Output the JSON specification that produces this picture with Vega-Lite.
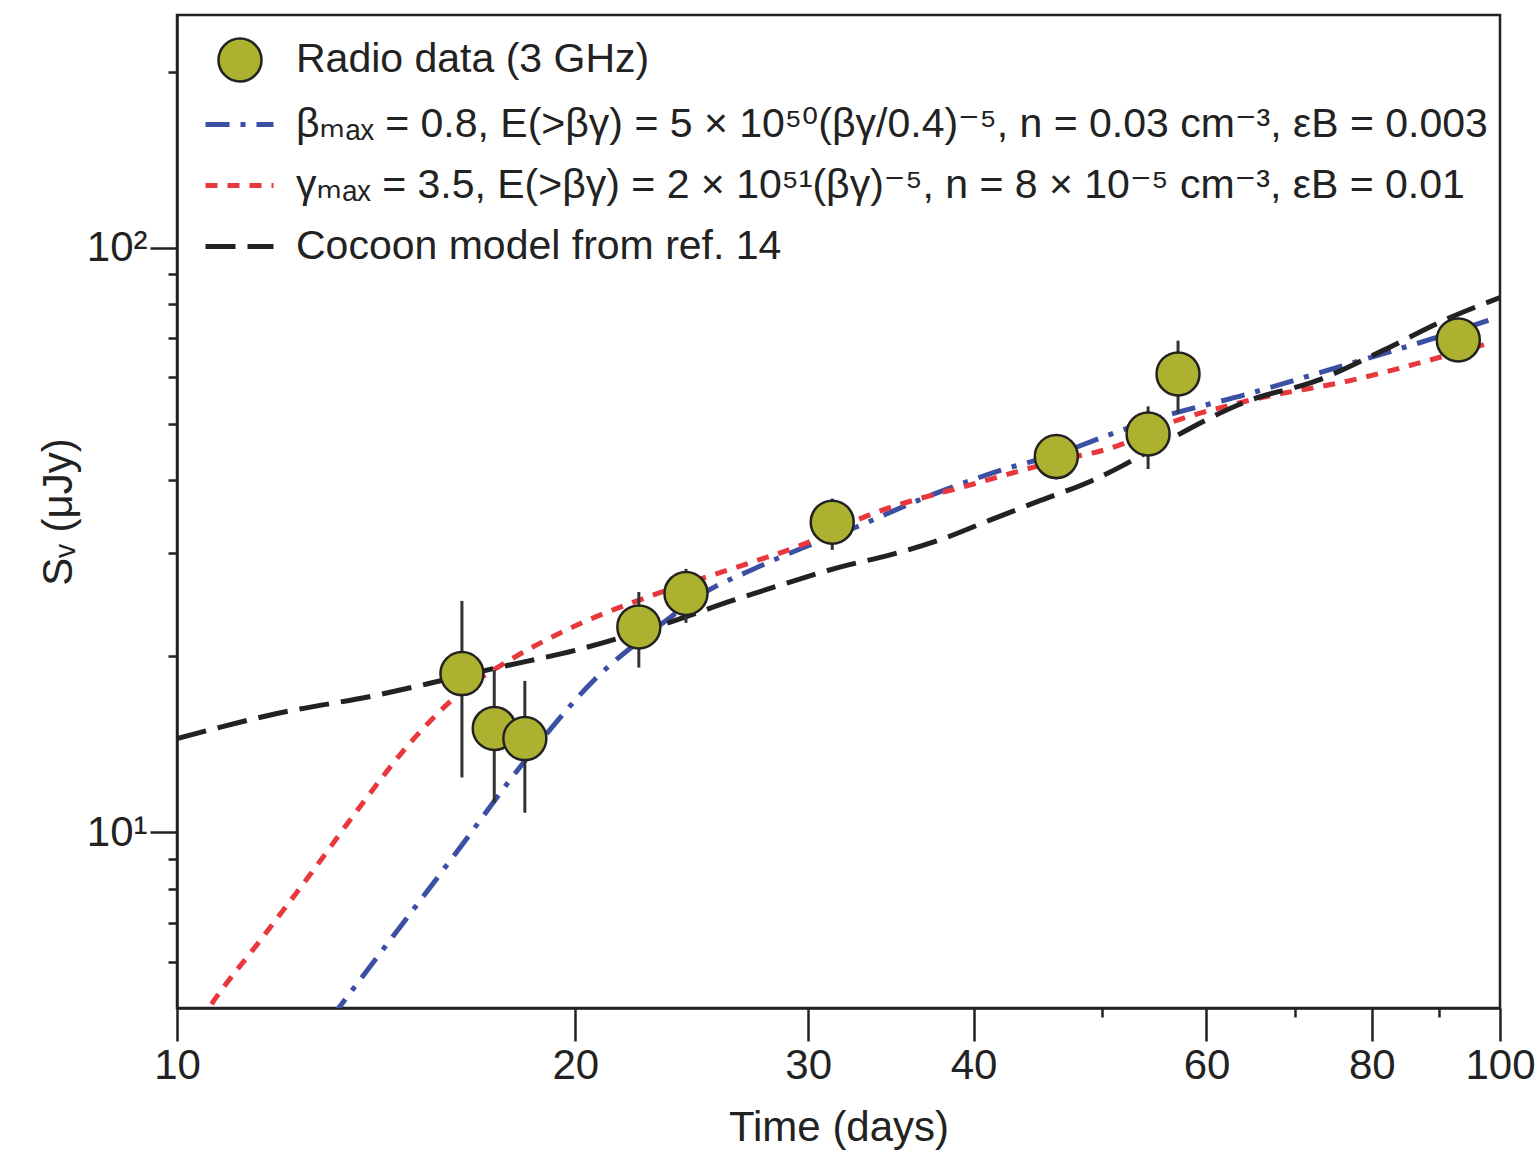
{
  "$schema": "https://vega.github.io/schema/vega-lite/v6.json",
  "width": 1323,
  "height": 993,
  "autosize": {"type": "none"},
  "padding": {"left": 177, "top": 15, "right": 38, "bottom": 144},
  "background": "white",
  "config": {
    "font": "Liberation Sans, Arial, DejaVu Sans, sans-serif",
    "view": {"stroke": "#222", "strokeWidth": 2.5},
    "axis": {
      "grid": false,
      "domainColor": "#222",
      "domainWidth": 2.5,
      "tickColor": "#222",
      "tickWidth": 2.5,
      "labelColor": "#222",
      "titleColor": "#222",
      "labelFontSize": 42,
      "titleFontSize": 42,
      "titleFontWeight": "normal",
      "labelFlush": false,
      "labelOverlap": false
    },
    "legend": {"labelColor": "#222", "labelFontSize": 41, "labelLimit": 0}
  },
  "datasets": {
    "models": [
      {"model": "beta", "t": 13.07, "S": 4.8},
      {"model": "beta", "t": 13.45, "S": 5.23},
      {"model": "beta", "t": 16.57, "S": 9.77},
      {"model": "beta", "t": 17.85, "S": 12.27},
      {"model": "beta", "t": 18.94, "S": 14.54},
      {"model": "beta", "t": 20.66, "S": 18.19},
      {"model": "beta", "t": 22.54, "S": 21.54},
      {"model": "beta", "t": 23.88, "S": 23.77},
      {"model": "beta", "t": 24.85, "S": 25.4},
      {"model": "beta", "t": 27.1, "S": 28.0},
      {"model": "beta", "t": 29.57, "S": 30.5},
      {"model": "beta", "t": 32.66, "S": 33.3},
      {"model": "beta", "t": 36.6, "S": 37.2},
      {"model": "beta", "t": 42.4, "S": 41.9},
      {"model": "beta", "t": 46.1, "S": 44.2},
      {"model": "beta", "t": 50.5, "S": 47.7},
      {"model": "beta", "t": 54.4, "S": 50.6},
      {"model": "beta", "t": 64.7, "S": 56.3},
      {"model": "beta", "t": 77.0, "S": 63.3},
      {"model": "beta", "t": 86.5, "S": 68.5},
      {"model": "beta", "t": 99.5, "S": 75.9},
      {"model": "gamma", "t": 10.4, "S": 4.72},
      {"model": "gamma", "t": 10.59, "S": 5.03},
      {"model": "gamma", "t": 11.55, "S": 6.51},
      {"model": "gamma", "t": 12.6, "S": 8.44},
      {"model": "gamma", "t": 13.75, "S": 11.05},
      {"model": "gamma", "t": 15.0, "S": 14.2},
      {"model": "gamma", "t": 16.37, "S": 17.3},
      {"model": "gamma", "t": 17.85, "S": 19.7},
      {"model": "gamma", "t": 20.06, "S": 22.6},
      {"model": "gamma", "t": 23.2, "S": 25.7},
      {"model": "gamma", "t": 26.5, "S": 28.4},
      {"model": "gamma", "t": 29.57, "S": 30.9},
      {"model": "gamma", "t": 33.6, "S": 35.1},
      {"model": "gamma", "t": 40.0, "S": 39.4},
      {"model": "gamma", "t": 46.1, "S": 43.1},
      {"model": "gamma", "t": 51.9, "S": 46.2},
      {"model": "gamma", "t": 54.4, "S": 48.6},
      {"model": "gamma", "t": 64.7, "S": 54.8},
      {"model": "gamma", "t": 77.0, "S": 59.2},
      {"model": "gamma", "t": 86.5, "S": 63.3},
      {"model": "gamma", "t": 97.8, "S": 68.5},
      {"model": "cocoon", "t": 10.0, "S": 14.45},
      {"model": "cocoon", "t": 11.9, "S": 15.95},
      {"model": "cocoon", "t": 14.16, "S": 17.15},
      {"model": "cocoon", "t": 15.91, "S": 18.2},
      {"model": "cocoon", "t": 17.45, "S": 19.1},
      {"model": "cocoon", "t": 20.06, "S": 20.5},
      {"model": "cocoon", "t": 23.5, "S": 22.8},
      {"model": "cocoon", "t": 26.3, "S": 24.9},
      {"model": "cocoon", "t": 28.8, "S": 26.6},
      {"model": "cocoon", "t": 31.7, "S": 28.4},
      {"model": "cocoon", "t": 34.6, "S": 29.8},
      {"model": "cocoon", "t": 37.7, "S": 31.6},
      {"model": "cocoon", "t": 41.2, "S": 34.2},
      {"model": "cocoon", "t": 44.9, "S": 36.9},
      {"model": "cocoon", "t": 49.0, "S": 39.8},
      {"model": "cocoon", "t": 51.9, "S": 42.4},
      {"model": "cocoon", "t": 54.4, "S": 45.0},
      {"model": "cocoon", "t": 64.7, "S": 54.8},
      {"model": "cocoon", "t": 72.7, "S": 59.2},
      {"model": "cocoon", "t": 81.6, "S": 66.7},
      {"model": "cocoon", "t": 91.7, "S": 75.9},
      {"model": "cocoon", "t": 100.0, "S": 82.1}
    ],
    "radio": [
      {"series": "Radio data (3 GHz)", "t": 16.42, "S": 18.67, "lo": 12.4, "hi": 24.86},
      {"series": "Radio data (3 GHz)", "t": 17.37, "S": 15.04, "lo": 11.22, "hi": 18.92},
      {"series": "Radio data (3 GHz)", "t": 18.32, "S": 14.45, "lo": 10.79, "hi": 18.14},
      {"series": "Radio data (3 GHz)", "t": 22.34, "S": 22.44, "lo": 19.12, "hi": 25.75},
      {"series": "Radio data (3 GHz)", "t": 24.25, "S": 25.6, "lo": 22.8, "hi": 28.2},
      {"series": "Radio data (3 GHz)", "t": 31.28, "S": 33.9, "lo": 30.4, "hi": 37.2},
      {"series": "Radio data (3 GHz)", "t": 46.2, "S": 43.9, "lo": 40.1, "hi": 47.7},
      {"series": "Radio data (3 GHz)", "t": 54.2, "S": 48.0, "lo": 41.8, "hi": 53.5},
      {"series": "Radio data (3 GHz)", "t": 57.1, "S": 60.8, "lo": 52.1, "hi": 69.3},
      {"series": "Radio data (3 GHz)", "t": 93.0, "S": 69.5, "lo": 66.5, "hi": 72.5}
    ]
  },
  "layer": [
    {
      "data": {"name": "models"},
      "mark": {"type": "line", "strokeWidth": 5, "clip": true, "interpolate": "monotone", "strokeCap": "butt"},
      "encoding": {
        "x": {
          "field": "t", "type": "quantitative",
          "scale": {"type": "log", "domain": [10, 100], "nice": false},
          "axis": {"orient": "bottom", "values": [10, 20, 30, 40, 60, 80, 100], "format": "d", "tickSize": 33, "labelPadding": 4, "title": "Time (days)", "titlePadding": 21}
        },
        "y": {
          "field": "S", "type": "quantitative",
          "scale": {"type": "log", "domain": [5, 250], "nice": false},
          "axis": {"orient": "left", "values": [10, 100], "labelExpr": "datum.value == 100 ? '10²' : '10¹'", "tickSize": 27, "labelPadding": 3, "title": "Sᵥ (μJy)", "titlePadding": 6}
        },
        "color": {
          "field": "model", "type": "nominal",
          "scale": {"domain": ["beta", "gamma", "cocoon"], "range": ["#3b4fa3", "#e8383e", "#222222"]},
          "legend": {"orient": "none", "legendX": 26, "legendY": 73, "title": null, "padding": 0, "symbolType": "stroke", "symbolSize": 4624, "symbolStrokeWidth": 5, "labelOffset": 20, "rowPadding": 4, "labelExpr": "datum.label == 'beta' ? 'βₘₐₓ = 0.8, E(>βγ) = 5 × 10⁵⁰(βγ/0.4)⁻⁵, n = 0.03 cm⁻³, εB = 0.003' : datum.label == 'gamma' ? 'γₘₐₓ = 3.5, E(>βγ) = 2 × 10⁵¹(βγ)⁻⁵, n = 8 × 10⁻⁵ cm⁻³, εB = 0.01' : 'Cocoon model from ref. 14'"}
        },
        "strokeDash": {
          "field": "model", "type": "nominal",
          "scale": {"domain": ["beta", "gamma", "cocoon"], "range": [[24, 11, 5, 11], [12, 10], [30, 12]]},
          "legend": {"orient": "none", "legendX": 26, "legendY": 73, "title": null, "padding": 0, "symbolType": "stroke", "symbolSize": 4624, "symbolStrokeWidth": 5, "labelOffset": 20, "rowPadding": 4, "labelExpr": "datum.label == 'beta' ? 'βₘₐₓ = 0.8, E(>βγ) = 5 × 10⁵⁰(βγ/0.4)⁻⁵, n = 0.03 cm⁻³, εB = 0.003' : datum.label == 'gamma' ? 'γₘₐₓ = 3.5, E(>βγ) = 2 × 10⁵¹(βγ)⁻⁵, n = 8 × 10⁻⁵ cm⁻³, εB = 0.01' : 'Cocoon model from ref. 14'"}
        }
      }
    },
    {
      "data": {"name": "radio"},
      "mark": {"type": "rule", "color": "#333333", "strokeWidth": 3},
      "encoding": {
        "x": {
          "field": "t", "type": "quantitative",
          "axis": {"orient": "bottom", "values": [50, 70, 90], "tickSize": 9, "labels": false, "domain": false, "title": null}
        },
        "y": {
          "field": "lo", "type": "quantitative",
          "axis": {"orient": "left", "values": [6, 7, 8, 9, 20, 30, 40, 50, 60, 70, 80, 90, 200], "tickSize": 9, "labels": false, "domain": false, "title": null}
        },
        "y2": {"field": "hi"}
      }
    },
    {
      "data": {"name": "radio"},
      "mark": {"type": "point", "shape": "circle", "filled": true, "strokeWidth": 2.5, "size": 1849, "opacity": 1},
      "encoding": {
        "x": {"field": "t", "type": "quantitative", "axis": null},
        "y": {"field": "S", "type": "quantitative", "axis": null},
        "fill": {
          "field": "series", "type": "nominal",
          "scale": {"range": ["#adb130"]},
          "legend": {"orient": "none", "legendX": 40, "legendY": 22, "title": null, "padding": 0, "symbolSize": 1849, "symbolStrokeWidth": 2.5, "symbolOpacity": 1, "labelOffset": 33}
        },
        "stroke": {
          "field": "series", "type": "nominal",
          "scale": {"range": ["#222222"]},
          "legend": {"orient": "none", "legendX": 40, "legendY": 22, "title": null, "padding": 0, "symbolSize": 1849, "symbolStrokeWidth": 2.5, "symbolOpacity": 1, "labelOffset": 33}
        },
        "shape": {
          "field": "series", "type": "nominal",
          "scale": {"range": ["circle"]},
          "legend": {"orient": "none", "legendX": 40, "legendY": 22, "title": null, "padding": 0, "symbolSize": 1849, "symbolStrokeWidth": 2.5, "symbolOpacity": 1, "labelOffset": 33}
        }
      }
    }
  ],
  "resolve": {"axis": {"x": "independent", "y": "independent"}}
}
